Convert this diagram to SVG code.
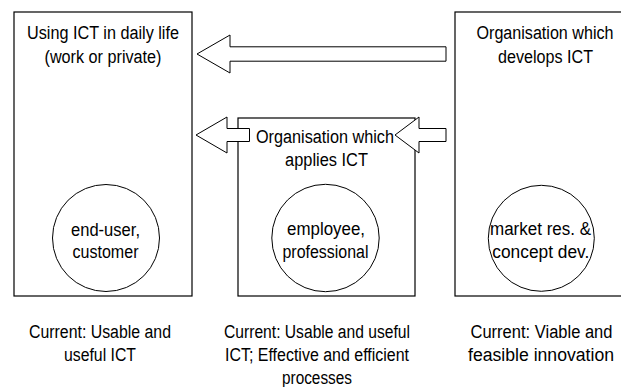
<svg xmlns="http://www.w3.org/2000/svg" width="621" height="387" viewBox="0 0 621 387">
<style>
.box{fill:none;stroke:#000;stroke-width:1.2}
.role{fill:#fff;stroke:#000;stroke-width:1}
.arrow{fill:#fff;stroke:#000;stroke-width:1;stroke-linejoin:miter}
text{font-family:"Liberation Sans",Arial,sans-serif;font-size:18px;fill:#000;text-anchor:middle}
</style>
<rect width="621" height="387" fill="#fff"/>
<g id="daily-life">
<rect class="box" x="14" y="12" width="178" height="284"/>
<text x="103" y="39" textLength="152" lengthAdjust="spacingAndGlyphs">Using ICT in daily life</text>
<text x="103" y="63" textLength="117" lengthAdjust="spacingAndGlyphs">(work or private)</text>
<circle class="role" cx="106" cy="238" r="53.5"/>
<text x="105.5" y="235.5" textLength="69" lengthAdjust="spacingAndGlyphs">end-user,</text>
<text x="105.5" y="258" textLength="66" lengthAdjust="spacingAndGlyphs">customer</text>
<text x="100" y="337.5" textLength="142" lengthAdjust="spacingAndGlyphs">Current: Usable and</text>
<text x="100" y="360.5" textLength="72" lengthAdjust="spacingAndGlyphs">useful ICT</text>
</g>
<g id="applies-ict">
<rect class="box" x="238" y="118" width="177" height="178"/>
<text x="325" y="142.5" textLength="138" lengthAdjust="spacingAndGlyphs">Organisation which</text>
<text x="326.5" y="166" textLength="83" lengthAdjust="spacingAndGlyphs">applies ICT</text>
<circle class="role" cx="325.5" cy="238" r="53.7"/>
<text x="326" y="234.5" textLength="78" lengthAdjust="spacingAndGlyphs">employee,</text>
<text x="325.5" y="257.5" textLength="86" lengthAdjust="spacingAndGlyphs">professional</text>
<text x="317" y="337.5" textLength="186" lengthAdjust="spacingAndGlyphs">Current: Usable and useful</text>
<text x="317" y="360.5" textLength="184" lengthAdjust="spacingAndGlyphs">ICT; Effective and efficient</text>
<text x="317" y="383.5" textLength="70" lengthAdjust="spacingAndGlyphs">processes</text>
</g>
<g id="develops-ict">
<rect class="box" x="455" y="12" width="180" height="284"/>
<text x="545" y="39" textLength="137" lengthAdjust="spacingAndGlyphs">Organisation which</text>
<text x="545.5" y="63" textLength="95" lengthAdjust="spacingAndGlyphs">develops ICT</text>
<circle class="role" cx="541.3" cy="238.3" r="53"/>
<text x="540.5" y="235" textLength="101" lengthAdjust="spacingAndGlyphs">market res. &amp;</text>
<text x="540.8" y="258" textLength="97" lengthAdjust="spacingAndGlyphs">concept dev.</text>
<text x="541.5" y="337.5" textLength="142" lengthAdjust="spacingAndGlyphs">Current: Viable and</text>
<text x="541" y="360.5" textLength="146" lengthAdjust="spacingAndGlyphs">feasible innovation</text>
</g>
<g id="connectors">
<polygon class="arrow" points="197,54 230,35 230,46.8 446,46.8 446,61.2 230,61.2 230,73"/>
<polygon class="arrow" points="196,135 227,117 227,128.5 249.5,128.5 249.5,141.5 227,141.5 227,153"/>
<polygon class="arrow" points="395,135 419,117 419,128.5 446,128.5 446,141.5 419,141.5 419,153"/>
</g>
</svg>
